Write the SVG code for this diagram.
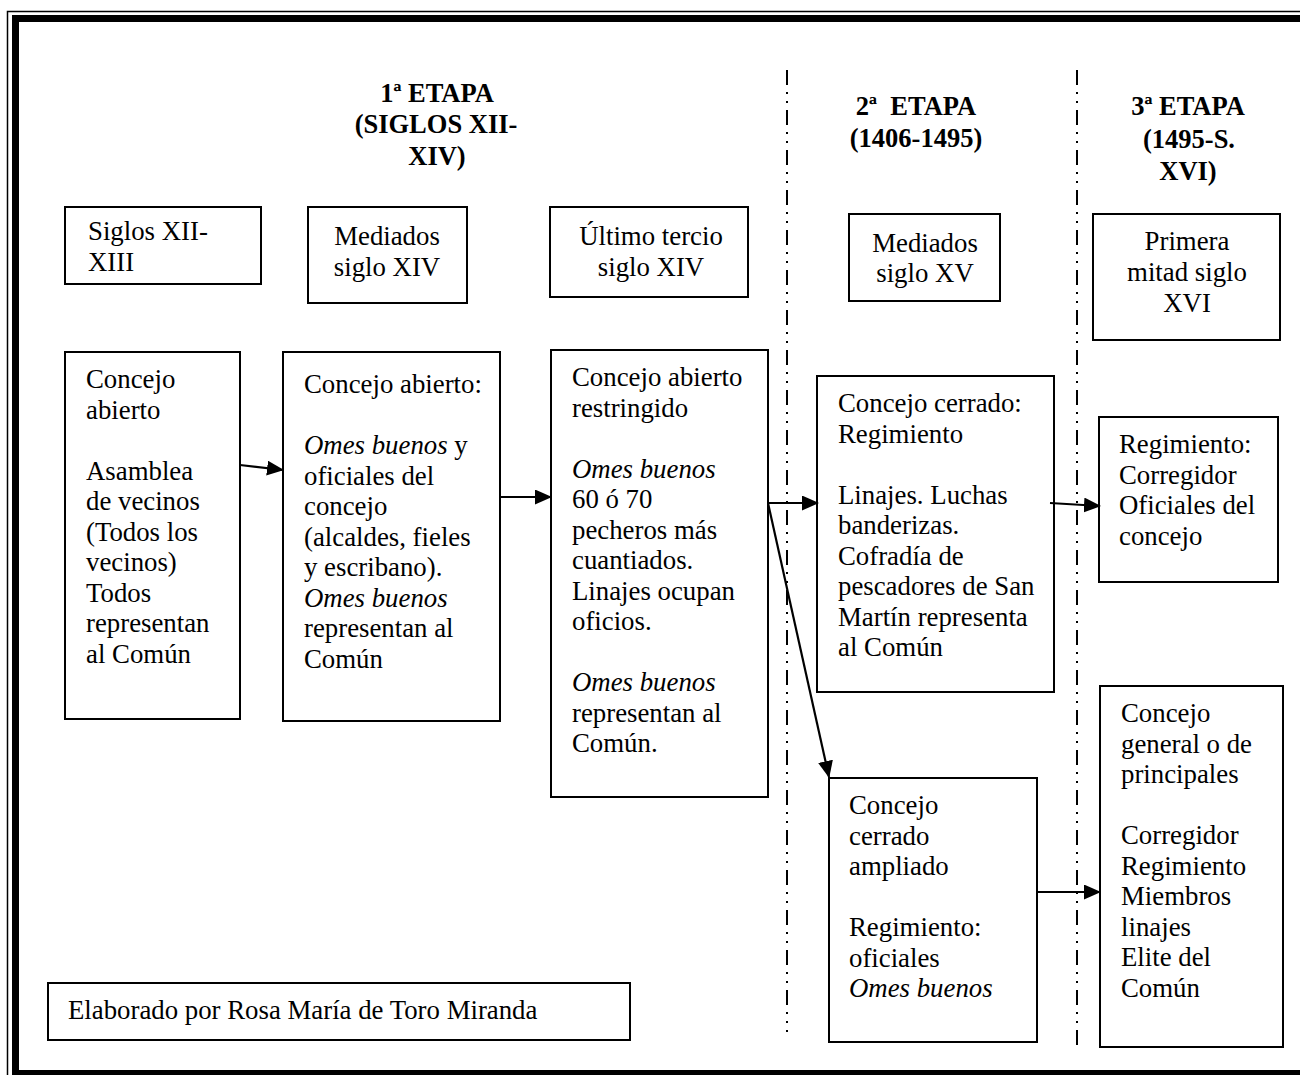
<svg xmlns="http://www.w3.org/2000/svg" width="1300" height="1075" viewBox="0 0 1300 1075">
<defs>
<style>
text{font-family:"Liberation Serif","Times New Roman",serif;font-size:26.8px;fill:#000}
.h{font-weight:bold;text-anchor:middle;white-space:pre;font-size:26.5px}
.c{text-anchor:middle}
.i{font-style:italic}
.box{fill:#fff;stroke:#000;stroke-width:2}
.sep{fill:none;stroke:#000;stroke-width:2;stroke-dasharray:15 7 2 7 2 7}
.arr{fill:none;stroke:#000;stroke-width:2.2;marker-end:url(#ah)}
</style>
<marker id="ah" viewBox="0 0 17 15" refX="16" refY="7.5" markerWidth="17" markerHeight="15" markerUnits="userSpaceOnUse" orient="auto">
<path d="M0,0 L17,7.5 L0,15 Z" fill="#000"/>
</marker>
</defs>
<rect width="1300" height="1075" fill="#fff"/>
<rect x="7.5" y="11.5" width="1320" height="1090" fill="none" stroke="#000" stroke-width="1.5"/>
<rect x="15.5" y="18.5" width="1310" height="1055" fill="none" stroke="#000" stroke-width="7"/>

<g id="separators">
<line class="sep" x1="787" y1="70" x2="787" y2="1032"/>
<line class="sep" x1="1077" y1="70" x2="1077" y2="1050"/>
</g>

<g id="headings">
<text class="h" x="437" y="102">1ª ETAPA</text>
<text class="h" x="436" y="133">(SIGLOS XII-</text>
<text class="h" x="437" y="165">XIV)</text>
<text class="h" x="916" y="115">2ª  ETAPA</text>
<text class="h" x="916" y="147">(1406-1495)</text>
<text class="h" x="1188" y="115">3ª ETAPA</text>
<text class="h" x="1189" y="148">(1495-S.</text>
<text class="h" x="1188" y="180">XVI)</text>
</g>

<g id="period1">
<rect class="box" x="65" y="207" width="196" height="77"/>
<text x="88" y="240">Siglos XII-</text>
<text x="88" y="271">XIII</text>
</g>
<g id="period2">
<rect class="box" x="308" y="207" width="159" height="96"/>
<text class="c" x="387" y="245">Mediados</text>
<text class="c" x="387" y="276">siglo XIV</text>
</g>
<g id="period3">
<rect class="box" x="550" y="207" width="198" height="90"/>
<text class="c" x="651" y="245">Último tercio</text>
<text class="c" x="651" y="276">siglo XIV</text>
</g>
<g id="period4">
<rect class="box" x="849" y="214" width="151" height="87"/>
<text class="c" x="925" y="252">Mediados</text>
<text class="c" x="925" y="282">siglo XV</text>
</g>
<g id="period5">
<rect class="box" x="1093" y="214" width="187" height="126"/>
<text class="c" x="1187" y="250">Primera</text>
<text class="c" x="1187" y="281">mitad siglo</text>
<text class="c" x="1187" y="312">XVI</text>
</g>

<g id="node1">
<rect class="box" x="65" y="352" width="175" height="367"/>
<text x="86" y="388">Concejo</text>
<text x="86" y="418.5">abierto</text>
<text x="86" y="479.5">Asamblea</text>
<text x="86" y="510">de vecinos</text>
<text x="86" y="540.5">(Todos los</text>
<text x="86" y="571">vecinos)</text>
<text x="86" y="601.5">Todos</text>
<text x="86" y="632">representan</text>
<text x="86" y="662.5">al Común</text>
</g>

<g id="node2">
<rect class="box" x="283" y="352" width="217" height="369"/>
<text x="304" y="393">Concejo abierto:</text>
<text x="304" y="454"><tspan class="i">Omes buenos</tspan> y</text>
<text x="304" y="484.5">oficiales del</text>
<text x="304" y="515">concejo</text>
<text x="304" y="545.5">(alcaldes, fieles</text>
<text x="304" y="576">y escribano).</text>
<text x="304" y="606.5" class="i">Omes buenos</text>
<text x="304" y="637">representan al</text>
<text x="304" y="667.5">Común</text>
</g>

<g id="node3">
<rect class="box" x="551" y="350" width="217" height="447"/>
<text x="572" y="386">Concejo abierto</text>
<text x="572" y="416.5">restringido</text>
<text x="572" y="477.5" class="i">Omes buenos</text>
<text x="572" y="508">60 ó 70</text>
<text x="572" y="538.5">pecheros más</text>
<text x="572" y="569">cuantiados.</text>
<text x="572" y="599.5">Linajes ocupan</text>
<text x="572" y="630">oficios.</text>
<text x="572" y="691" class="i">Omes buenos</text>
<text x="572" y="721.5">representan al</text>
<text x="572" y="752">Común.</text>
</g>

<g id="node4">
<rect class="box" x="817" y="376" width="237" height="316"/>
<text x="838" y="412">Concejo cerrado:</text>
<text x="838" y="442.5">Regimiento</text>
<text x="838" y="503.5">Linajes. Luchas</text>
<text x="838" y="534">banderizas.</text>
<text x="838" y="564.5">Cofradía de</text>
<text x="838" y="595">pescadores de San</text>
<text x="838" y="625.5">Martín representa</text>
<text x="838" y="656">al Común</text>
</g>

<g id="node5">
<rect class="box" x="1099" y="417" width="179" height="165"/>
<text x="1119" y="453">Regimiento:</text>
<text x="1119" y="483.5">Corregidor</text>
<text x="1119" y="514">Oficiales del</text>
<text x="1119" y="544.5">concejo</text>
</g>

<g id="node6">
<rect class="box" x="829" y="778" width="208" height="264"/>
<text x="849" y="814">Concejo</text>
<text x="849" y="844.5">cerrado</text>
<text x="849" y="875">ampliado</text>
<text x="849" y="936">Regimiento:</text>
<text x="849" y="966.5">oficiales</text>
<text x="849" y="997" class="i">Omes buenos</text>
</g>

<g id="node7">
<rect class="box" x="1100" y="686" width="183" height="361"/>
<text x="1121" y="722">Concejo</text>
<text x="1121" y="752.5">general o de</text>
<text x="1121" y="783">principales</text>
<text x="1121" y="844">Corregidor</text>
<text x="1121" y="874.5">Regimiento</text>
<text x="1121" y="905">Miembros</text>
<text x="1121" y="935.5">linajes</text>
<text x="1121" y="966">Elite del</text>
<text x="1121" y="996.5">Común</text>
</g>

<g id="credit">
<rect class="box" x="48" y="983" width="582" height="57"/>
<text x="68" y="1019">Elaborado por Rosa María de Toro Miranda</text>
</g>

<g id="connectors">
<line class="arr" x1="240" y1="465" x2="283" y2="470"/>
<line class="arr" x1="500" y1="497" x2="551" y2="497"/>
<line class="arr" x1="768" y1="503" x2="818" y2="503"/>
<line class="arr" x1="768" y1="503" x2="829" y2="777"/>
<line class="arr" x1="1050" y1="503" x2="1100" y2="506"/>
<line class="arr" x1="1036" y1="892" x2="1100" y2="892"/>
</g>
</svg>
